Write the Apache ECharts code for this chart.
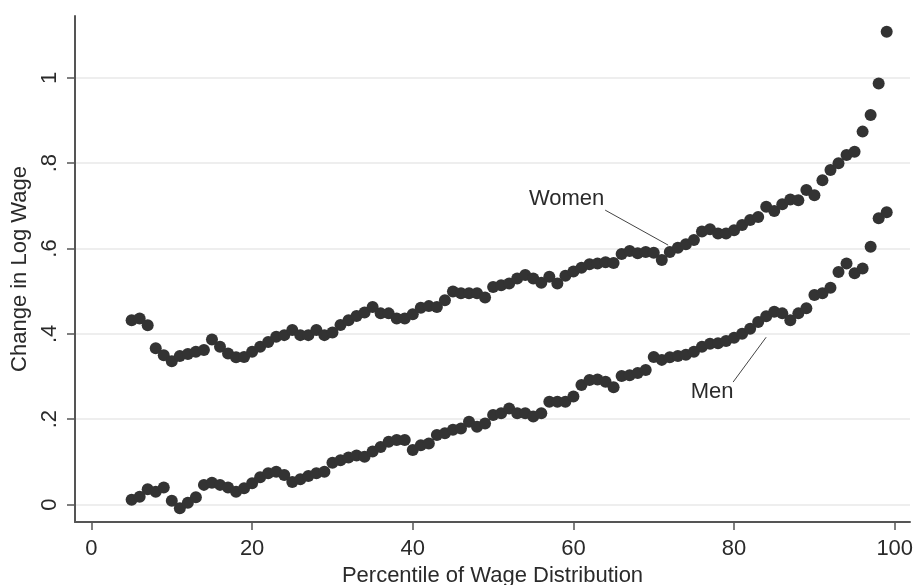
<!DOCTYPE html>
<html>
<head>
<meta charset="utf-8">
<title>Change in Log Wage by Percentile</title>
<script src="https://cdn.jsdelivr.net/npm/echarts@6/dist/echarts.min.js"></script>
<style>
  html, body { margin: 0; padding: 0; background: #ffffff; }
  #chart { width: 917px; height: 585px; }
</style>
</head>
<body>
<div id="chart"></div>
<script>
// Wage percentiles plotted (5th through 99th)
const percentiles = [];
for (let p = 5; p <= 99; p++) percentiles.push(p);

// Change in log wage at each percentile, women
const women = [
  0.432, 0.436, 0.420, 0.366, 0.350, 0.336, 0.348, 0.353, 0.358, 0.362,
  0.387, 0.370, 0.354, 0.345, 0.346, 0.358, 0.370, 0.381, 0.393, 0.397,
  0.409, 0.397, 0.397, 0.409, 0.397, 0.403, 0.421, 0.432, 0.442, 0.450,
  0.463, 0.448, 0.448, 0.436, 0.436, 0.446, 0.461, 0.465, 0.463, 0.479,
  0.499, 0.495, 0.495, 0.495, 0.485, 0.510, 0.514, 0.518, 0.530, 0.538,
  0.530, 0.520, 0.534, 0.518, 0.536, 0.546, 0.555, 0.563, 0.565, 0.568,
  0.566, 0.587, 0.594, 0.589, 0.592, 0.590, 0.573, 0.592, 0.602, 0.610,
  0.620, 0.640, 0.645, 0.635, 0.635, 0.643, 0.655, 0.667, 0.674, 0.698,
  0.688, 0.704, 0.715, 0.713, 0.737, 0.725, 0.760, 0.784, 0.800, 0.819,
  0.827, 0.874, 0.913, 0.987, 1.108
];

// Change in log wage at each percentile, men
const men = [
  0.011, 0.018, 0.036, 0.030, 0.040, 0.009, -0.009, 0.004, 0.017, 0.046,
  0.051, 0.046, 0.040, 0.030, 0.038, 0.050, 0.064, 0.073, 0.077, 0.069,
  0.053, 0.059, 0.067, 0.073, 0.077, 0.098, 0.104, 0.110, 0.115, 0.112,
  0.124, 0.135, 0.147, 0.151, 0.151, 0.128, 0.139, 0.143, 0.163, 0.167,
  0.175, 0.178, 0.194, 0.182, 0.190, 0.210, 0.214, 0.225, 0.214, 0.214,
  0.206, 0.214, 0.241, 0.241, 0.241, 0.253, 0.280, 0.292, 0.293, 0.288,
  0.275, 0.301, 0.303, 0.308, 0.315, 0.346, 0.339, 0.345, 0.348, 0.351,
  0.358, 0.370, 0.377, 0.378, 0.383, 0.391, 0.400, 0.412, 0.428, 0.441,
  0.452, 0.448, 0.432, 0.448, 0.460, 0.491, 0.495, 0.508, 0.545, 0.565,
  0.542, 0.553, 0.604, 0.671, 0.685
];

// Axis ticks and their labels
const xTicks = [0, 20, 40, 60, 80, 100];
const yTicks = [0, 0.2, 0.4, 0.6, 0.8, 1];
const yTickLabels = ['0', '.2', '.4', '.6', '.8', '1'];

// Series captions: text anchor and leader line end points, in data units
const womenCaption = { text: 'Women', at: [59.15, 0.716], line: [[63.95, 0.690], [71.79, 0.608]] };
const menCaption = { text: 'Men', at: [77.27, 0.264], line: [[79.88, 0.287], [83.99, 0.392]] };

const FONT = '"Liberation Sans", Arial, Helvetica, sans-serif';
const INK = '#2a2a2a';
const DOT = '#333333';

function pairs(values) {
  return percentiles.map((p, i) => [p, values[i]]);
}

function caption(c) {
  return {
    markPoint: {
      silent: true,
      symbol: 'circle',
      symbolSize: 1,
      itemStyle: { color: 'rgba(0,0,0,0)' },
      label: {
        show: true,
        position: 'inside',
        formatter: c.text,
        color: INK,
        fontFamily: FONT,
        fontSize: 22
      },
      data: [{ coord: c.at }]
    },
    markLine: {
      silent: true,
      symbol: ['none', 'none'],
      label: { show: false },
      lineStyle: { color: '#444444', width: 1, type: 'solid' },
      data: [[{ coord: c.line[0] }, { coord: c.line[1] }]]
    }
  };
}

const chart = echarts.init(document.getElementById('chart'), null, { renderer: 'canvas' });

chart.setOption({
  animation: false,
  backgroundColor: '#ffffff',
  grid: { left: 75, right: 7, top: 16, bottom: 63, outerBoundsMode: 'none', containLabel: false },
  xAxis: {
    type: 'value',
    min: -2.05,
    max: 101.9,
    name: 'Percentile of Wage Distribution',
    nameLocation: 'middle',
    nameGap: 40,
    nameTextStyle: { color: INK, fontFamily: FONT, fontSize: 22 },
    axisLine: { show: true, onZero: false, lineStyle: { color: '#555555', width: 2 } },
    axisTick: { show: true, customValues: xTicks, length: 8, lineStyle: { color: '#555555', width: 1.5 } },
    axisLabel: { customValues: xTicks, color: INK, fontFamily: FONT, fontSize: 22, margin: 16 },
    splitLine: { show: false }
  },
  yAxis: {
    type: 'value',
    min: -0.041,
    max: 1.145,
    name: 'Change in Log Wage',
    nameLocation: 'middle',
    nameGap: 44,
    nameTextStyle: { color: INK, fontFamily: FONT, fontSize: 22 },
    axisLine: { show: true, onZero: false, lineStyle: { color: '#555555', width: 2 } },
    axisTick: { show: true, customValues: yTicks, length: 8, lineStyle: { color: '#555555', width: 1.5 } },
    axisLabel: {
      customValues: yTicks,
      rotate: 90,
      color: INK,
      fontFamily: FONT,
      fontSize: 22,
      margin: 14,
      formatter: function (v) {
        const i = yTicks.findIndex(t => Math.abs(t - v) < 1e-9);
        return i >= 0 ? yTickLabels[i] : '';
      }
    },
    splitLine: { show: true, lineStyle: { color: '#e8e8e8', width: 1.5 } }
  },
  series: [
    Object.assign({
      name: 'Women',
      type: 'scatter',
      symbol: 'circle',
      symbolSize: 12,
      itemStyle: { color: DOT, opacity: 1 },
      data: pairs(women)
    }, caption(womenCaption)),
    Object.assign({
      name: 'Men',
      type: 'scatter',
      symbol: 'circle',
      symbolSize: 12,
      itemStyle: { color: DOT, opacity: 1 },
      data: pairs(men)
    }, caption(menCaption))
  ]
});
</script>
</body>
</html>
